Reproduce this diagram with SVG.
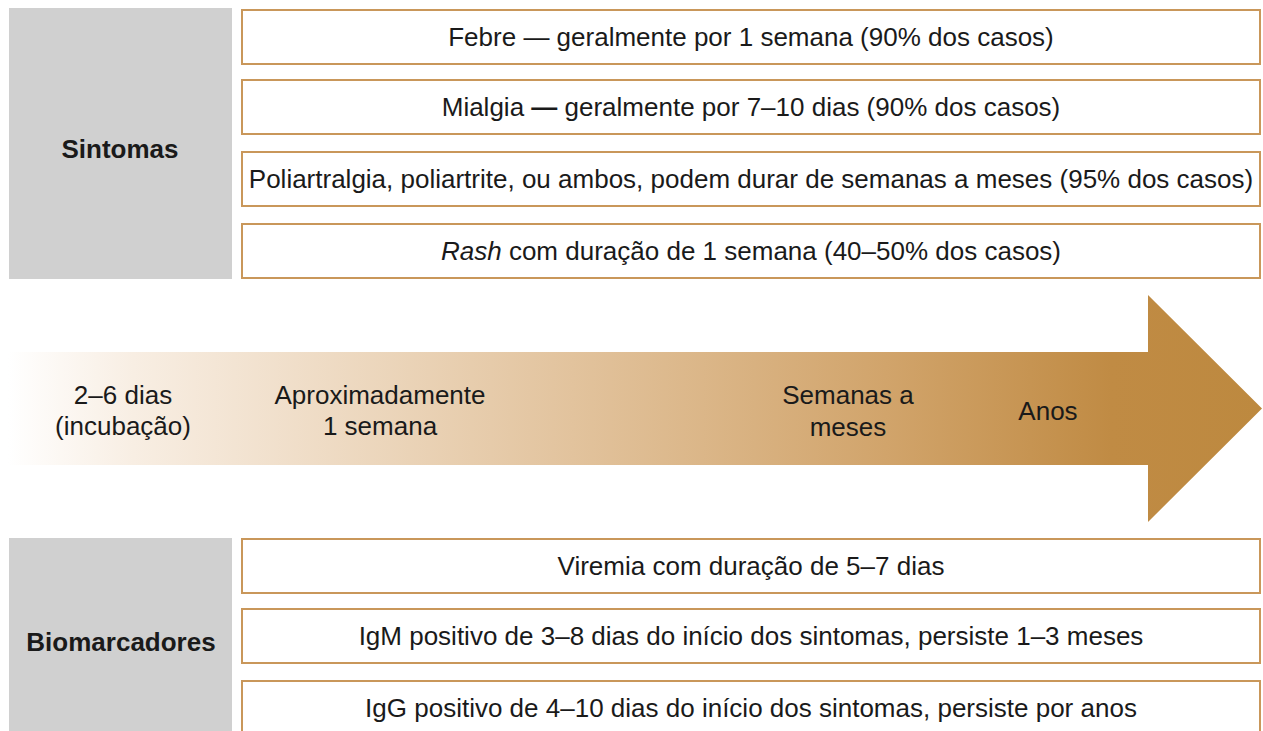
<svg xmlns="http://www.w3.org/2000/svg" width="1263" height="731" viewBox="0 0 1263 731">
<style>
.cat{fill:#d0d0d0}
.box{fill:#fff;stroke:#c9975a;stroke-width:2}
.t{font-family:"Liberation Sans",Arial,sans-serif;font-size:26px;fill:#1a1a1a;text-anchor:middle}
.b{font-weight:bold}
</style>
<defs>
<linearGradient id="g" gradientUnits="userSpaceOnUse" x1="8" y1="0" x2="1262" y2="0">
<stop offset="0" stop-color="#ffffff"/>
<stop offset="0.1" stop-color="#f8eee3"/>
<stop offset="0.45" stop-color="#e2c39d"/>
<stop offset="0.7" stop-color="#d1a46b"/>
<stop offset="0.88" stop-color="#c08b44"/>
<stop offset="1" stop-color="#bd893f"/>
</linearGradient>
</defs>
<rect width="1263" height="731" fill="#fff"/>
<g id="timeline">
<polygon points="8,352 1148,352 1148,295 1262,408.5 1148,522 1148,465 8,465" fill="url(#g)"/>
<text class="t" x="123" y="404">2–6 dias</text>
<text class="t" x="123" y="435">(incubação)</text>
<text class="t" x="380" y="404">Aproximadamente</text>
<text class="t" x="380" y="435">1 semana</text>
<text class="t" x="848" y="404">Semanas a</text>
<text class="t" x="848" y="436">meses</text>
<text class="t" x="1048" y="420">Anos</text>
</g>
<g id="sintomas">
<rect class="cat" x="9" y="8" width="223" height="271"/>
<text class="t b" x="120" y="158">Sintomas</text>
</g>
<g id="s1">
<rect class="box" x="242" y="10" width="1018" height="54"/>
<text class="t" x="751" y="46">Febre — geralmente por 1 semana (90% dos casos)</text>
</g>
<g id="s2">
<rect class="box" x="242" y="80" width="1018" height="54"/>
<text class="t" x="751" y="116">Mialgia <tspan class="b">—</tspan> geralmente por 7–10 dias (90% dos casos)</text>
</g>
<g id="s3">
<rect class="box" x="242" y="152" width="1018" height="54"/>
<text class="t" x="751" y="188">Poliartralgia, poliartrite, ou ambos, podem durar de semanas a meses (95% dos casos)</text>
</g>
<g id="s4">
<rect class="box" x="242" y="224" width="1018" height="54"/>
<text class="t" x="751" y="260"><tspan font-style="italic">Rash</tspan> com duração de 1 semana (40–50% dos casos)</text>
</g>
<g id="biomarcadores">
<rect class="cat" x="9" y="538" width="223" height="200"/>
<text class="t b" x="121" y="651">Biomarcadores</text>
</g>
<g id="b1">
<rect class="box" x="242" y="539" width="1018" height="54"/>
<text class="t" x="751" y="575">Viremia com duração de 5–7 dias</text>
</g>
<g id="b2">
<rect class="box" x="242" y="609" width="1018" height="54"/>
<text class="t" x="751" y="645">IgM positivo de 3–8 dias do início dos sintomas, persiste 1–3 meses</text>
</g>
<g id="b3">
<rect class="box" x="242" y="681" width="1018" height="60"/>
<text class="t" x="751" y="717">IgG positivo de 4–10 dias do início dos sintomas, persiste por anos</text>
</g>
<g id="connectors"/>
</svg>
